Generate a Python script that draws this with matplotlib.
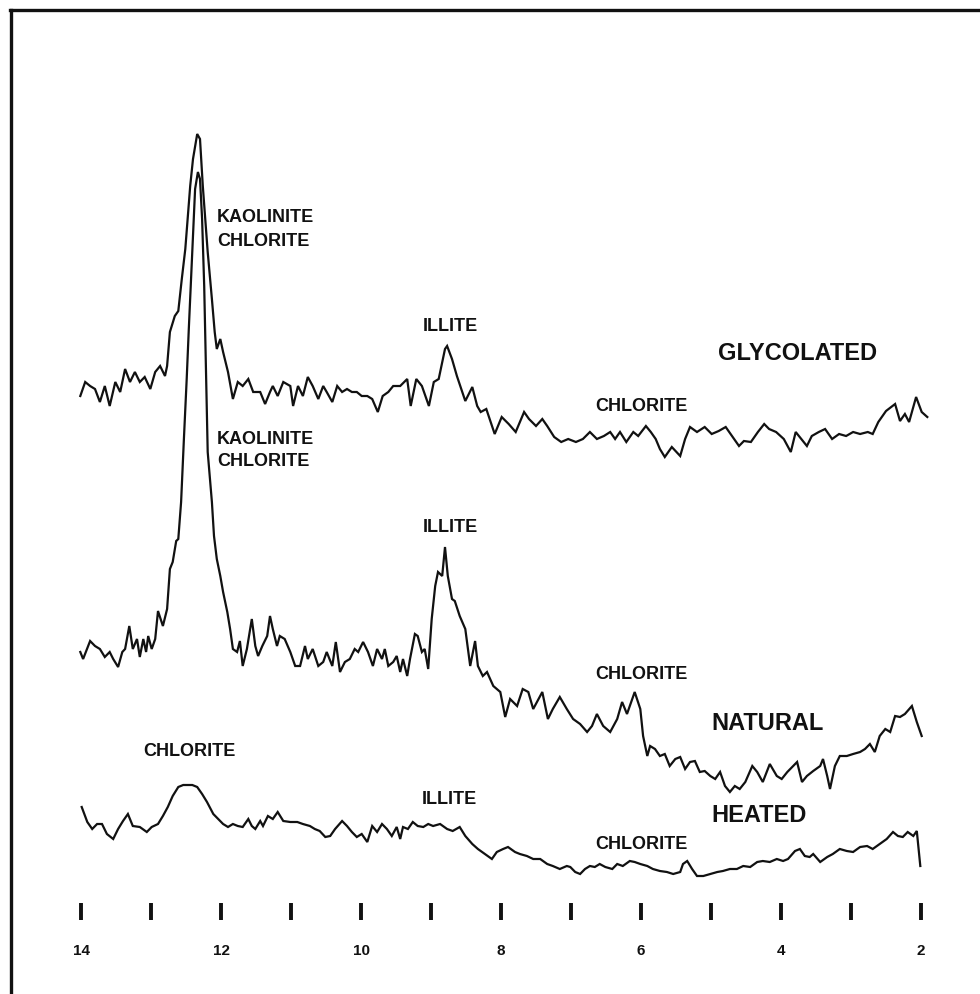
import matplotlib
matplotlib.use("Agg")
import matplotlib.pyplot as plt
from matplotlib.lines import Line2D

plt.rcParams['font.family'] = ['Liberation Sans', 'DejaVu Sans']

# Diffraktogram, lest av figuren (grader 2-theta, relativ intensitet inkl. forskyvning)
glyc_2t = [14.01, 13.94, 13.87, 13.80, 13.73, 13.66, 13.59, 13.51, 13.44, 13.37, 13.30, 13.23,
           13.16, 13.09, 13.01, 12.94, 12.87, 12.80, 12.77, 12.73, 12.66, 12.61, 12.56, 12.51,
           12.44, 12.40, 12.34, 12.30, 12.26, 12.19, 12.13, 12.09, 12.06, 12.01, 11.97, 11.90,
           11.83, 11.76, 11.69, 11.61, 11.54, 11.44, 11.37, 11.30, 11.26, 11.19, 11.11, 11.01,
           10.97, 10.90, 10.83, 10.76, 10.69, 10.61, 10.54, 10.49, 10.41, 10.34, 10.27, 10.20,
           10.13, 10.06, 9.99, 9.91, 9.84, 9.76, 9.69, 9.61, 9.54, 9.44, 9.34, 9.29, 9.21, 9.13,
           9.03, 8.96, 8.89, 8.80, 8.77, 8.70, 8.63, 8.51, 8.41, 8.34, 8.29, 8.21, 8.09, 7.99,
           7.89, 7.79, 7.67, 7.60, 7.50, 7.41, 7.34, 7.24, 7.14, 7.04, 6.93, 6.83, 6.73, 6.63,
           6.53, 6.44, 6.37, 6.30, 6.21, 6.11, 6.04, 5.93, 5.86, 5.79, 5.73, 5.66, 5.56, 5.44,
           5.37, 5.30, 5.20, 5.09, 4.99, 4.89, 4.79, 4.70, 4.60, 4.53, 4.43, 4.33, 4.24, 4.17,
           4.07, 3.96, 3.86, 3.79, 3.71, 3.63, 3.56, 3.46, 3.37, 3.27, 3.17, 3.07, 2.97, 2.87,
           2.76, 2.69, 2.61, 2.50, 2.37, 2.30, 2.23, 2.17, 2.07, 1.99, 1.91]
glyc_int = [598, 612, 608, 605, 592, 608, 588, 612, 602, 625, 612, 622,
            612, 617, 605, 622, 628, 618, 628, 662, 678, 683, 715, 745,
            808, 835, 860, 855, 808, 742, 695, 662, 645, 655, 642, 622,
            595, 612, 608, 615, 602, 602, 590, 602, 608, 598, 612, 608,
            588, 608, 598, 617, 608, 595, 608, 602, 592, 608, 602, 605,
            602, 602, 598, 598, 595, 582, 598, 602, 608, 608, 615, 588, 615, 608,
            588, 612, 615, 645, 648, 635, 618, 593, 607, 588, 582, 585, 560, 577,
            570, 562, 582, 575, 568, 575, 568, 557, 552, 555, 552, 555, 562, 555,
            558, 562, 555, 562, 552, 562, 558, 568, 562, 555, 545, 537, 547, 538,
            555, 567, 562, 567, 560, 563, 567, 558, 548, 553, 552, 562, 570, 565,
            562, 555, 542, 562, 555, 548, 558, 562, 565, 555, 560, 558, 562, 560,
            562, 560, 572, 583, 590, 573, 580, 572, 597, 582, 577]

nat_2t = [14.01, 13.97, 13.87, 13.80, 13.73, 13.66, 13.59, 13.54, 13.47, 13.41, 13.37, 13.31,
          13.26, 13.20, 13.16, 13.11, 13.07, 13.04, 12.99, 12.94, 12.90, 12.83, 12.77, 12.73,
          12.69, 12.64, 12.61, 12.57, 12.53, 12.49, 12.46, 12.41, 12.37, 12.33, 12.30, 12.27,
          12.24, 12.21, 12.19, 12.13, 12.10, 12.06, 12.01, 11.97, 11.91, 11.87, 11.83, 11.77,
          11.73, 11.69, 11.63, 11.56, 11.51, 11.47, 11.41, 11.34, 11.30, 11.26, 11.20, 11.16,
          11.09, 11.01, 10.94, 10.87, 10.80, 10.76, 10.69, 10.61, 10.54, 10.49, 10.41, 10.36,
          10.30, 10.23, 10.16, 10.09, 10.04, 9.97, 9.90, 9.83, 9.77, 9.70, 9.66, 9.61, 9.54,
          9.49, 9.44, 9.40, 9.34, 9.30, 9.23, 9.19, 9.13, 9.09, 9.04, 8.99, 8.94, 8.90, 8.84,
          8.80, 8.76, 8.70, 8.66, 8.59, 8.51, 8.44, 8.37, 8.33, 8.26, 8.20, 8.11, 8.01, 7.94,
          7.87, 7.77, 7.69, 7.61, 7.54, 7.41, 7.33, 7.26, 7.16, 7.06, 6.97, 6.87, 6.77, 6.70,
          6.63, 6.54, 6.44, 6.34, 6.27, 6.20, 6.16, 6.09, 6.01, 5.97, 5.91, 5.87, 5.80, 5.73,
          5.66, 5.59, 5.51, 5.44, 5.37, 5.30, 5.23, 5.16, 5.09, 5.01, 4.94, 4.87, 4.80, 4.73,
          4.66, 4.59, 4.51, 4.41, 4.34, 4.26, 4.16, 4.06, 3.99, 3.91, 3.77, 3.70, 3.63, 3.54,
          3.44, 3.40, 3.34, 3.30, 3.23, 3.16, 3.06, 2.97, 2.87, 2.80, 2.73, 2.66, 2.59, 2.51,
          2.44, 2.37, 2.30, 2.23, 2.13, 2.06, 1.99]
nat_int = [342, 335, 353, 348, 345, 337, 342, 335, 327, 342, 345, 368,
           345, 355, 337, 355, 342, 358, 345, 355, 383, 368, 385, 425,
           432, 453, 455, 492, 555, 615, 665, 742, 805, 822, 815, 775,
           708, 608, 542, 492, 458, 435, 418, 402, 382, 365, 345, 342,
           353, 328, 345, 375, 348, 338, 348, 358, 378, 365, 348, 358,
           355, 342, 328, 328, 348, 335, 345, 328, 332, 342, 328, 352,
           322, 332, 335, 345, 342, 352, 342, 328, 345, 335, 345, 328, 332,
           338, 322, 335, 318, 335, 360, 358, 342, 345, 325, 375, 408, 422, 418,
           447, 418, 395, 393, 378, 365, 328, 353, 328, 318, 322, 308, 302, 277,
           295, 288, 305, 302, 285, 302, 275, 285, 297, 285, 275, 270, 262, 268,
           280, 268, 262, 275, 292, 280, 288, 302, 285, 258, 238, 248, 245, 238,
           240, 228, 235, 237, 225, 232, 233, 222, 223, 218, 215, 222, 208, 202,
           208, 205, 212, 228, 222, 212, 230, 218, 215, 222, 232, 212, 218, 223,
           228, 235, 218, 205, 228, 238, 238, 240, 242, 245, 250, 242, 258, 265,
           262, 278, 277, 280, 288, 272, 258]

heat_2t = [13.99, 13.91, 13.84, 13.77, 13.70, 13.63, 13.54, 13.47, 13.40, 13.33, 13.26, 13.16,
           13.06, 12.99, 12.90, 12.83, 12.76, 12.69, 12.61, 12.54, 12.41, 12.34, 12.27, 12.20,
           12.11, 12.04, 11.97, 11.90, 11.83, 11.76, 11.69, 11.61, 11.56, 11.51, 11.44, 11.40,
           11.33, 11.26, 11.19, 11.11, 11.01, 10.91, 10.83, 10.73, 10.66, 10.59, 10.51, 10.44,
           10.37, 10.27, 10.20, 10.13, 10.06, 9.99, 9.91, 9.84, 9.77, 9.70, 9.63, 9.56, 9.49,
           9.44, 9.40, 9.33, 9.26, 9.19, 9.11, 9.04, 8.97, 8.87, 8.77, 8.69, 8.59, 8.51, 8.41,
           8.33, 8.23, 8.13, 8.06, 7.97, 7.90, 7.80, 7.73, 7.63, 7.54, 7.44, 7.34, 7.26, 7.16,
           7.06, 7.01, 6.94, 6.87, 6.80, 6.73, 6.66, 6.59, 6.51, 6.41, 6.34, 6.26, 6.16, 6.09,
           6.01, 5.91, 5.83, 5.73, 5.63, 5.54, 5.44, 5.40, 5.34, 5.27, 5.20, 5.11, 5.01, 4.91,
           4.83, 4.73, 4.63, 4.54, 4.44, 4.34, 4.26, 4.16, 4.06, 3.97, 3.90, 3.80, 3.73, 3.66,
           3.59, 3.54, 3.44, 3.34, 3.26, 3.16, 3.06, 2.97, 2.87, 2.77, 2.69, 2.59, 2.49, 2.40,
           2.33, 2.26, 2.19, 2.11, 2.06, 2.01]
heat_int = [187, 172, 165, 170, 170, 160, 155, 165, 173, 180, 168, 167,
            162, 167, 170, 178, 187, 198, 207, 209, 209, 207, 200, 192,
            180, 175, 170, 167, 170, 168, 167, 175, 168, 165, 173, 168,
            178, 175, 182, 173, 172, 172, 170, 168, 165, 163, 157, 158,
            165, 173, 168, 162, 157, 160, 152, 168, 162, 170, 165, 158, 167,
            155, 167, 165, 172, 168, 167, 170, 168, 170, 165, 163, 167, 158, 150,
            145, 140, 135, 142, 145, 147, 142, 140, 138, 135, 135, 130, 128, 125,
            128, 127, 122, 120, 125, 128, 127, 130, 127, 125, 130, 128, 133, 132,
            130, 128, 125, 123, 122, 120, 122, 130, 133, 125, 118, 118, 120, 122,
            123, 125, 125, 128, 127, 132, 133, 132, 135, 133, 135, 143, 145, 138,
            137, 140, 132, 137, 140, 145, 143, 142, 147, 148, 145, 150, 155, 162,
            158, 157, 162, 158, 163, 128]

# Akse-merker
tick_pos = list(range(2, 15))
tick_labels = [2, 4, 6, 8, 10, 12, 14]

# Tekster: (tekst, 2-theta, hoyde, storrelse, justering)
labels = [
    ("KAOLINITE", 12.06, 777, 13, "left"),
    ("CHLORITE", 12.06, 753, 13, "left"),
    ("ILLITE", 8.73, 668, 13, "center"),
    ("GLYCOLATED", 4.90, 641, 17, "left"),
    ("CHLORITE", 6.66, 588, 13, "left"),
    ("KAOLINITE", 12.06, 555, 13, "left"),
    ("CHLORITE", 12.06, 533, 13, "left"),
    ("ILLITE", 8.73, 467, 13, "center"),
    ("CHLORITE", 6.66, 320, 13, "left"),
    ("NATURAL", 4.99, 271, 17, "left"),
    ("CHLORITE", 13.11, 243, 13, "left"),
    ("ILLITE", 8.74, 195, 13, "center"),
    ("HEATED", 4.99, 179, 17, "left"),
    ("CHLORITE", 6.66, 150, 13, "left"),
]

fig = plt.figure(figsize=(9.8, 9.95), dpi=100)
ax = fig.add_axes([0, 0, 1, 1])
ax.set_xlim(14 + 81 / 70, 14 - 899 / 70)
ax.set_ylim(0, 995)
ax.axis("off")

for xs, ys in [(glyc_2t, glyc_int), (nat_2t, nat_int), (heat_2t, heat_int)]:
    ax.plot(xs, ys, color="#111111", lw=1.6, solid_joinstyle="miter")

ax.vlines(tick_pos, 74, 91, color="#111111", lw=2.8)
for t in tick_labels:
    ax.text(t, 44, str(t), ha="center", va="center", fontsize=11, fontweight="bold",
            color="#111111")

for txt, x, y, size, ha in labels:
    ax.text(x, y, txt, ha=ha, va="center", fontsize=size, fontweight="bold", color="#111111")

# Ramme oppe og til venstre
fig.add_artist(Line2D([0.010, 1.0], [0.989, 0.989], color="#111111", lw=2.4))
fig.add_artist(Line2D([0.011, 0.011], [0.0, 0.989], color="#111111", lw=2.4))

fig.savefig("out.png", dpi=100, facecolor="white")
